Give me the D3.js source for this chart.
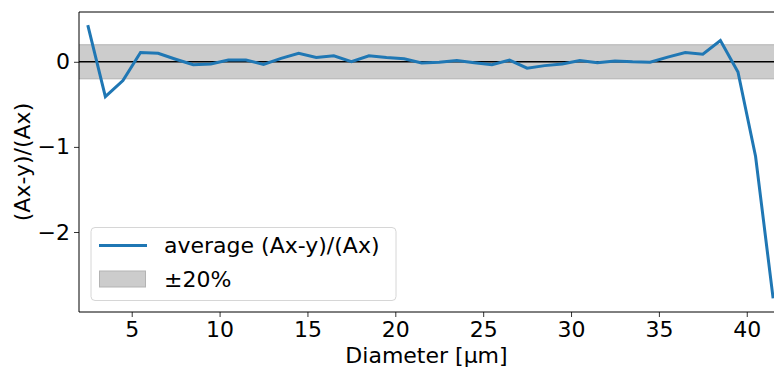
<!DOCTYPE html>
<html>
<head>
<meta charset="utf-8">
<script src="https://cdn.jsdelivr.net/npm/d3@7"></script>
<style>
  body { margin: 0; background: #fff; }
  text { font-family: "DejaVu Sans", sans-serif; }
</style>
</head>
<body>
<div id="chart"></div>
<script>
// diameter bins (µm) and the averaged relative error
const diameters = d3.range(40).map(i => 2.5 + i);
const avgError = [0.43, -0.41, -0.22, 0.11, 0.10, 0.03, -0.035, -0.025, 0.02, 0.02,
                  -0.03, 0.04, 0.10, 0.05, 0.07, 0.0, 0.07, 0.05, 0.035, -0.015,
                  -0.005, 0.015, -0.01, -0.035, 0.02, -0.075, -0.045, -0.025, 0.015, -0.01,
                  0.01, 0.0, -0.005, 0.055, 0.11, 0.09, 0.25, -0.12, -1.11, -2.78];
const band = [-0.2, 0.2];
const xTicks = [5, 10, 15, 20, 25, 30, 35, 40];
const yTicks = [0, -1, -2];

function ErrorChart({
    target,
    width = 774,
    height = 368,
    left = 79,
    right = 774,
    top = 12,
    bottom = 312,
    fontSize = 22,
} = {}) {
    const svg = d3.select(target).append("svg")
        .attr("width", width)
        .attr("height", height);

    const x = d3.scaleLinear().domain([2, 41.55]).range([left, right]);
    const y = d3.scaleLinear().domain([-2.94, 0.585]).range([bottom, top]);

    // ±20% band
    svg.append("rect")
        .attr("x", left).attr("width", right - left)
        .attr("y", y(band[1])).attr("height", y(band[0]) - y(band[1]))
        .attr("fill", "#cccccc");
    band.forEach(b => svg.append("line")
        .attr("x1", left).attr("x2", right)
        .attr("y1", y(b)).attr("y2", y(b))
        .attr("stroke", "#b3b3b3").attr("stroke-width", 1));

    // zero line
    svg.append("line")
        .attr("x1", left).attr("x2", right)
        .attr("y1", y(0)).attr("y2", y(0))
        .attr("stroke", "#000").attr("stroke-width", 1.5);

    const line = d3.line().x((d, i) => x(diameters[i])).y(d => y(d));
    svg.append("path")
        .datum(avgError)
        .attr("d", line)
        .attr("fill", "none")
        .attr("stroke", "#1f77b4")
        .attr("stroke-width", 3)
        .attr("stroke-linejoin", "miter");

    // axes
    const xAxis = svg.append("g")
        .attr("transform", `translate(0,${bottom})`)
        .call(d3.axisBottom(x).tickValues(xTicks).tickSize(5).tickPadding(4).tickFormat(d3.format("d")));
    const yAxis = svg.append("g")
        .attr("transform", `translate(${left},0)`)
        .call(d3.axisLeft(y).tickValues(yTicks).tickSize(5).tickPadding(4)
            .tickFormat(d => d < 0 ? "\u2212" + Math.abs(d) : d));
    [xAxis, yAxis].forEach(a => {
        a.select(".domain").remove();
        a.selectAll(".tick line").attr("stroke", "#333").attr("stroke-width", 1);
        a.selectAll(".tick text").attr("font-size", fontSize).attr("fill", "#000");
    });
    xAxis.selectAll(".tick text").attr("dy", "0.74em");

    // spines
    svg.append("line").attr("x1", left).attr("x2", left).attr("y1", top).attr("y2", bottom)
        .attr("stroke", "#000").attr("stroke-width", 1);
    svg.append("line").attr("x1", left).attr("x2", right).attr("y1", top).attr("y2", top)
        .attr("stroke", "#000").attr("stroke-width", 1);
    svg.append("line").attr("x1", left).attr("x2", right).attr("y1", bottom).attr("y2", bottom)
        .attr("stroke", "#000").attr("stroke-width", 1);

    // axis labels
    svg.append("text")
        .attr("x", (left + right) / 2).attr("y", 363)
        .attr("text-anchor", "middle").attr("font-size", fontSize)
        .text("Diameter [µm]");
    svg.append("text")
        .attr("transform", `translate(30,${(top + bottom) / 2}) rotate(-90)`)
        .attr("text-anchor", "middle").attr("font-size", fontSize)
        .text("(Ax-y)/(Ax)");

    // legend
    const lg = svg.append("g");
    lg.append("rect")
        .attr("x", 91).attr("y", 227.5).attr("width", 305).attr("height", 73)
        .attr("rx", 4)
        .attr("fill", "#fff").attr("fill-opacity", 0.8)
        .attr("stroke", "#d6d6d6").attr("stroke-width", 1);
    lg.append("line")
        .attr("x1", 99).attr("x2", 147).attr("y1", 245.5).attr("y2", 245.5)
        .attr("stroke", "#1f77b4").attr("stroke-width", 3);
    lg.append("rect")
        .attr("x", 99.5).attr("y", 271).attr("width", 46).attr("height", 16)
        .attr("fill", "#cccccc").attr("stroke", "#b3b3b3").attr("stroke-width", 1);
    lg.append("text").attr("x", 164).attr("y", 253).attr("font-size", fontSize)
        .text("average (Ax-y)/(Ax)");
    lg.append("text").attr("x", 164).attr("y", 287).attr("font-size", fontSize)
        .text("±20%");
}

ErrorChart({ target: "#chart" });
</script>
</body>
</html>
